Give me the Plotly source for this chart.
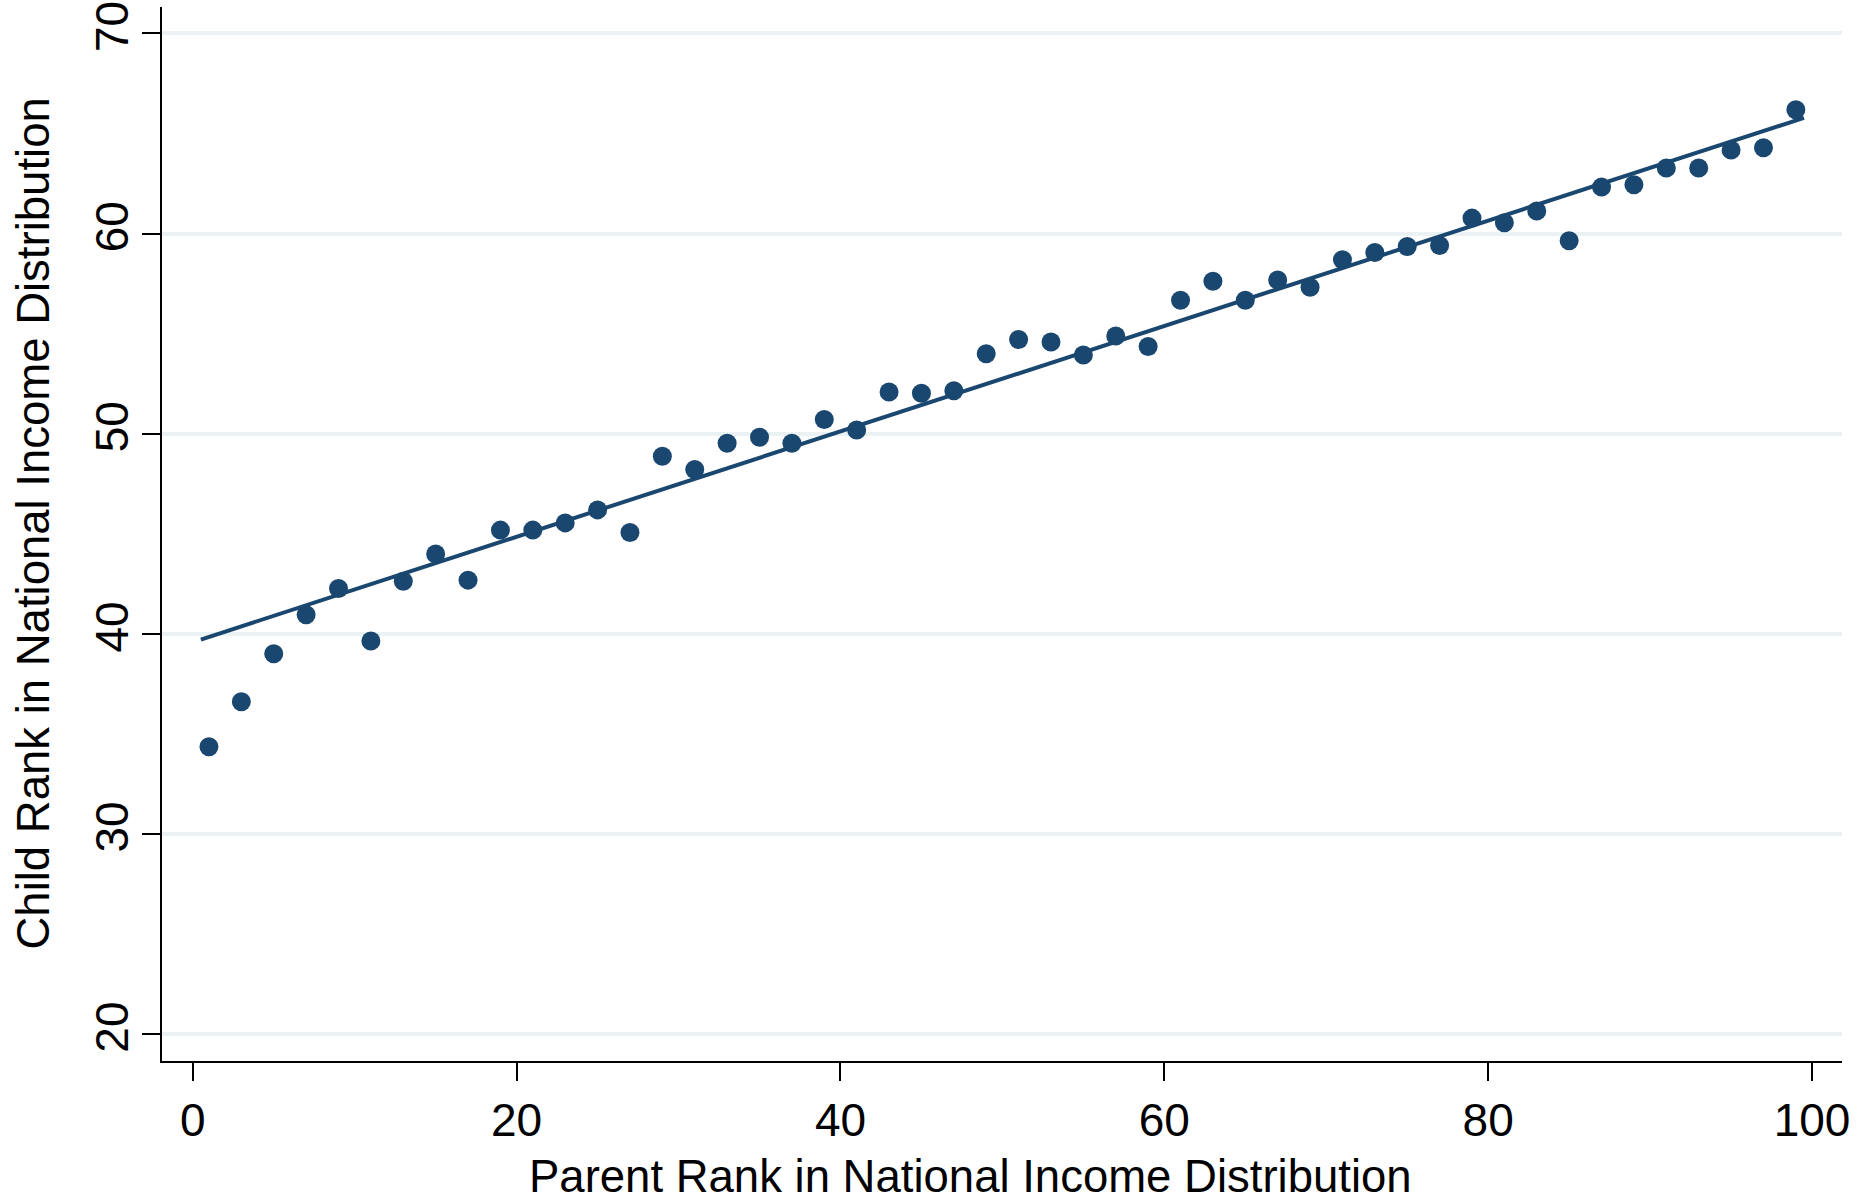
import plotly.graph_objects as go

# Binned scatter: parent rank (x) vs mean child rank (y)
parent_rank = [1, 3, 5, 7, 9, 11, 13, 15, 17, 19, 21, 23, 25, 27, 29, 31, 33, 35, 37, 39,
               41, 43, 45, 47, 49, 51, 53, 55, 57, 59, 61, 63, 65, 67, 69, 71, 73, 75, 77, 79,
               81, 83, 85, 87, 89, 91, 93, 95, 97, 99]
child_rank = [34.35, 36.6, 39.0, 40.95, 42.26, 39.64, 42.62, 43.99, 42.68, 45.18,
              45.18, 45.54, 46.19, 45.06, 48.87, 48.21, 49.52, 49.82, 49.52, 50.71,
              50.18, 52.08, 52.02, 52.14, 53.99, 54.70, 54.58, 53.93, 54.88, 54.35,
              56.67, 57.62, 56.67, 57.68, 57.32, 58.69, 59.05, 59.35, 59.40, 60.77,
              60.54, 61.13, 59.64, 62.32, 62.44, 63.27, 63.27, 64.17, 64.29, 66.19]

# Linear fit line endpoints
fit_x = [0.5, 99.5]
fit_y = [39.71, 65.78]

x_ticks = [0, 20, 40, 60, 80, 100]
y_ticks = [20, 30, 40, 50, 60, 70]

x_title = "Parent Rank in National Income Distribution"
y_title = "Child Rank in National Income Distribution"

NAVY = "#1a476f"
FONT = "Liberation Sans, Arial, Helvetica, sans-serif"

fig = go.Figure()
fig.add_trace(go.Scatter(x=parent_rank, y=child_rank, mode="markers",
                         marker=dict(color=NAVY, size=19, line=dict(width=0)),
                         showlegend=False))
fig.add_trace(go.Scatter(x=fit_x, y=fit_y, mode="lines",
                         line=dict(color=NAVY, width=4),
                         showlegend=False))

fig.update_layout(
    width=1868, height=1203,
    margin=dict(l=162, r=26, t=7, b=142, autoexpand=False),
    paper_bgcolor="white", plot_bgcolor="white",
    font=dict(family=FONT, color="black", size=46),
    xaxis=dict(
        range=[-1.9, 101.85], tickvals=x_ticks, ticktext=[str(v) for v in x_ticks],
        showgrid=False, zeroline=False, automargin=False,
        showline=True, linecolor="black", linewidth=2,
        ticks="outside", ticklen=18, tickwidth=2, tickcolor="black",
        tickfont=dict(size=46, family=FONT),
        ticklabeloverflow="allow",
    ),
    yaxis=dict(
        range=[18.65, 71.32], tickvals=y_ticks, ticktext=[str(v) for v in y_ticks],
        showgrid=True, gridcolor="#eaf2f3", gridwidth=4, zeroline=False, automargin=False,
        showline=True, linecolor="black", linewidth=2,
        ticks="outside", ticklen=18, tickwidth=2, tickcolor="black",
        tickangle=-90,
        tickfont=dict(size=46, family=FONT),
        ticklabeloverflow="allow",
        ticklabelstandoff=-4,
    ),
    annotations=[
        dict(text=x_title, xref="paper", yref="paper", x=0.481, y=-0.1092,
             xanchor="center", yanchor="middle", showarrow=False,
             font=dict(size=45.5, family=FONT, color="black")),
        dict(text=y_title, xref="paper", yref="paper", x=-0.0765, y=0.5104,
             xanchor="center", yanchor="middle", showarrow=False, textangle=-90,
             font=dict(size=45.5, family=FONT, color="black")),
    ],
)

fig.write_html("out.html",
               config={"displayModeBar": False},
               post_script="document.body.style.margin='0';document.body.style.overflow='hidden';")
